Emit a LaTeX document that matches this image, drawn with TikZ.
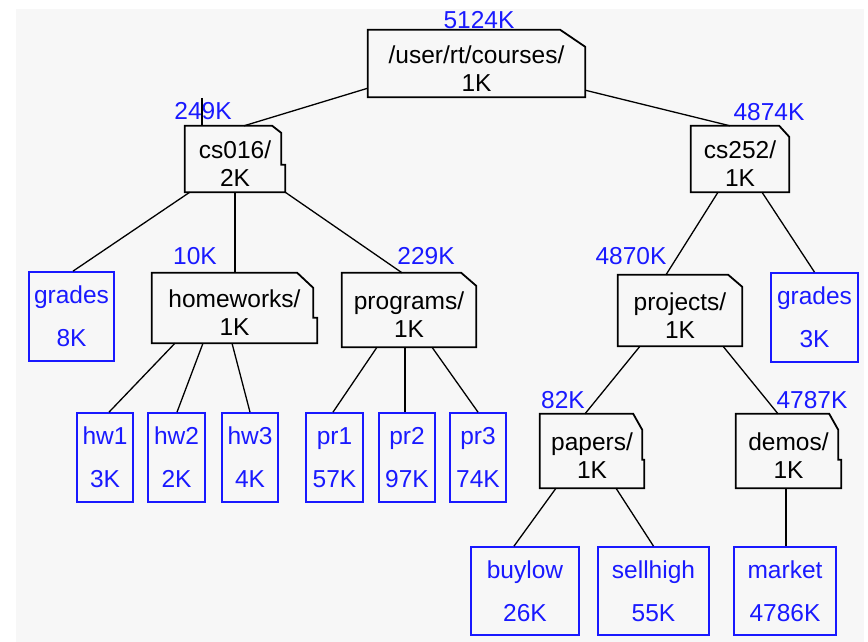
\documentclass[tikz,border=0pt]{standalone}
\usepackage{fontspec}
\setmainfont{Liberation Sans}
\usetikzlibrary{calc}
\definecolor{bgc}{RGB}{247,247,247}
\definecolor{fblue}{RGB}{25,25,255}
\newcommand\twoline[2]{\begin{tabular}{@{}c@{}}#1\\#2\end{tabular}}
\newcommand\ftext[2]{\raisebox{-8pt}[\height][\depth]{\twoline{#1}{#2}}}
\begin{document}
\begin{tikzpicture}[x=1pt,y=-1pt,
  sz/.style 2 args={minimum width=#1pt, minimum height=#2pt},
  folder/.style={draw=none, inner sep=0pt, text=black, font=\fontsize{24.5}{28}\selectfont},
  leaf/.style={draw=fblue, line width=1.7pt, text=fblue, inner sep=0pt, font=\fontsize{24.5}{43}\selectfont},
  sizelbl/.style={text=fblue, inner sep=0pt, font=\fontsize{24.5}{28}\selectfont},
  folderline/.style={draw=black, line width=1.8pt, line join=miter},
  conn/.style={draw=black, line width=1.3pt}]
\useasboundingbox (0,0) rectangle (868,642);
\fill[white] (0,0) rectangle (868,642);
\fill[bgc] (16,9) rectangle (864,642);

% folders
\node[folder, sz={217}{67}] (root) at (476.5,63.5) {\ftext{/user/rt/courses/}{1K}};
\node[folder, sz={100}{66}] (cs016) at (235,159) {\ftext{cs016/}{2K}};
\node[folder, sz={98}{66}] (cs252) at (740,159) {\ftext{cs252/}{1K}};
\node[folder, sz={165}{70}] (homeworks) at (234.5,308) {\ftext{homeworks/}{1K}};
\node[folder, sz={134}{74}] (programs) at (409,310) {\ftext{programs/}{1K}};
\node[folder, sz={124}{71}] (projects) at (680,310.5) {\ftext{projects/}{1K}};
\node[folder, sz={104}{74}] (papers) at (592,451) {\ftext{papers/}{1K}};
\node[folder, sz={105}{74}] (demos) at (788.5,451) {\ftext{demos/}{1K}};

% files
\node[leaf, sz={85}{89}] (grades1) at (71.5,316.5) {\twoline{grades}{8K}};
\node[leaf, sz={87}{89}] (grades2) at (814.5,317.5) {\twoline{grades}{3K}};
\node[leaf, sz={56}{89}] (hw1) at (105,457.5) {\twoline{hw1}{3K}};
\node[leaf, sz={57}{89}] (hw2) at (176.5,457.5) {\twoline{hw2}{2K}};
\node[leaf, sz={56}{89}] (hw3) at (250,457.5) {\twoline{hw3}{4K}};
\node[leaf, sz={57}{89}] (pr1) at (334.5,457.5) {\twoline{pr1}{57K}};
\node[leaf, sz={56}{89}] (pr2) at (407,457.5) {\twoline{pr2}{97K}};
\node[leaf, sz={56}{89}] (pr3) at (478,457.5) {\twoline{pr3}{74K}};
\node[leaf, sz={108}{88}] (buylow) at (525,591) {\twoline{buylow}{26K}};
\node[leaf, sz={111}{88}] (sellhigh) at (653.5,591) {\twoline{sellhigh}{55K}};
\node[leaf, sz={102}{88}] (market) at (785,591) {\twoline{market}{4786K}};

% folder outlines: name / corner cut dx / corner cut dy / notch dx / notch y
\foreach \n/\cx/\cy/\nd/\ny in {root/25/17/0/17, cs016/9/7/4/39, cs252/10/11/0/11,
    homeworks/16/15/4/45, programs/15/13/0/13, projects/14/12/0/12,
    papers/9/16/2/46, demos/9/16/3/46}
  \draw[folderline] (\n.north west) -- ($(\n.north east)+(-\nd-\cx,0)$)
    -- ($(\n.north east)+(-\nd,\cy)$) -- ($(\n.north east)+(-\nd,\ny)$)
    -- ($(\n.north east)+(0,\ny)$) -- (\n.south east) -- (\n.south west) -- cycle;

% size labels
\node[sizelbl] (lroot) at (479,20) {5124K};
\node[sizelbl] (lcs016) at (203,111) {249K};
\node[sizelbl] (lcs252) at (769,112) {4874K};
\node[sizelbl] (lhw) at (195,256) {10K};
\node[sizelbl] (lprog) at (426,256) {229K};
\node[sizelbl] (lproj) at (631,256) {4870K};
\node[sizelbl] (lpap) at (563,400) {82K};
\node[sizelbl] (ldem) at (812,400) {4787K};

% connectors
\coordinate (tick) at (202,98);
\draw[conn] (tick) -- (tick |- cs016.north);
\draw[conn] ([yshift=9pt]root.south west) -- ([xshift=9pt]cs016.north);
\draw[conn] ([yshift=7pt]root.south east) -- ([xshift=-10pt]cs252.north);
\draw[conn] ([xshift=5pt]cs016.south west) -- ([xshift=1.5pt]grades1.north);
\draw[conn] (cs016.south) -- (cs016.south |- homeworks.north);
\draw[conn] (cs016.south east) -- ([xshift=-7pt]programs.north);
\draw[conn] ([xshift=-22pt]cs252.south) -- ([xshift=-14pt]projects.north);
\draw[conn] ([xshift=22pt]cs252.south) -- (grades2.north);
\draw[conn] ([xshift=-59.5pt]homeworks.south) -- ([xshift=4pt]hw1.north);
\draw[conn] ([xshift=-31.5pt]homeworks.south) -- ([xshift=0.5pt]hw2.north);
\draw[conn] ([xshift=-2.5pt]homeworks.south) -- (hw3.north);
\draw[conn] ([xshift=-32pt]programs.south) -- ([xshift=-1.5pt]pr1.north);
\draw[conn] ([xshift=-4pt]programs.south) -- ([xshift=-2pt]pr2.north);
\draw[conn] ([xshift=23pt]programs.south) -- (pr3.north);
\draw[conn] ([xshift=-40pt]projects.south) -- ([xshift=-7pt]papers.north);
\draw[conn] ([xshift=43pt]projects.south) -- ([xshift=-10.5pt]demos.north);
\draw[conn] ([xshift=-36pt]papers.south) -- ([xshift=-11pt]buylow.north);
\draw[conn] ([xshift=24pt]papers.south) -- (sellhigh.north);
\draw[conn] ([xshift=-2.5pt]demos.south) -- ([xshift=1pt]market.north);
\end{tikzpicture}
\end{document}
